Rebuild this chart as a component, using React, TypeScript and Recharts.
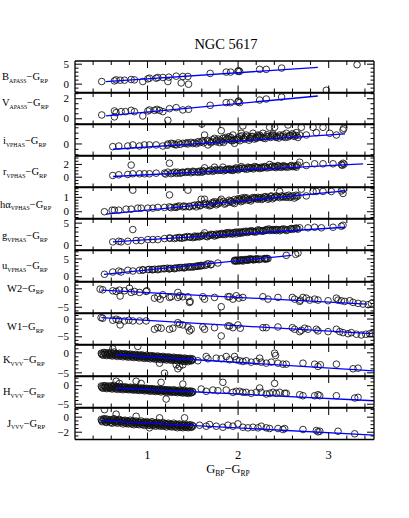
import React from 'react';
import { ScatterChart, Scatter, XAxis, YAxis } from 'recharts';

type P = [number, number];

const xTicks = [0.4, 0.6, 0.8, 1, 1.2, 1.4, 1.6, 1.8, 2, 2.2, 2.4, 2.6, 2.8, 3, 3.2, 3.4];
const xMajor = [1, 2, 3];

const bApass: P[] = [[0.495,0.65],[0.635,0.81],[0.654,1.07],[0.698,0.99],[0.746,0.99],[0.82,1.16],[0.856,1.07],[0.948,0.65],[1.004,1.32],[1.022,1.5],[1.096,1.5],[1.114,1.67],[1.17,1.67],[1.225,0.65],[1.236,1.75],[1.317,2.0],[1.39,1.92],[1.372,0.3],[1.446,1.92],[1.453,-0.02],[1.692,2.68],[1.869,3.02],[1.917,3.02],[1.998,3.19],[2.005,3.36],[2.017,3.19],[2.238,3.7],[2.311,3.7],[2.48,4.03],[3.313,4.87],[2.974,-1.54]];
const bApassFit: P[] = [[0.54,0.65],[2.88,4.2]];

const vApass: P[] = [[0.495,0.38],[0.635,0.78],[0.635,0.19],[0.654,0.61],[0.709,0.71],[0.757,0.71],[0.82,0.84],[0.856,0.71],[0.948,0.28],[1.004,0.78],[1.022,0.88],[1.077,0.84],[1.103,0.94],[1.133,0.84],[1.17,0.71],[1.225,-0.15],[1.243,1.01],[1.317,1.11],[1.39,0.88],[1.453,0.94],[1.692,1.34],[1.869,1.61],[1.917,1.61],[1.998,1.68],[2.005,1.77],[2.017,1.61],[2.238,1.87],[2.311,1.97],[2.48,2.17]];
const vApassFit: P[] = [[0.54,0.28],[2.88,2.27]];

const iVphas: P[] = [[0.617,-0.25],[0.683,-0.19],[0.783,-0.19],[0.838,-0.09],[0.912,-0.19],[0.967,-0.09],[1.022,-0.09],[1.096,-0.09],[1.169,-0.19],[1.225,0],[1.262,0.06],[1.317,-0.09],[1.39,0.06],[1.446,0],[1.519,0.12],[1.575,0.12],[1.6,1.85],[1.611,0.31],[1.63,0.83],[1.667,-0.09],[1.703,0.21],[1.74,0.52],[1.759,0.31],[1.796,0.12],[1.814,1.23],[1.832,0.52],[1.869,0.37],[1.899,0.68],[1.924,0.31],[1.943,0.83],[1.961,0.06],[1.98,0.43],[1.998,0.37],[2.017,0.68],[2.035,0.99],[2.053,1.67],[2.072,0.43],[2.09,0.83],[2.127,0.52],[2.145,0.68],[2.164,0.99],[2.201,0.52],[2.219,0.83],[2.238,0.62],[2.274,0.99],[2.311,0.68],[2.348,1.54],[2.366,0.74],[2.385,0.93],[2.403,1.54],[2.422,0.68],[2.459,0.83],[2.495,0.68],[2.532,0.99],[2.551,1.76],[2.569,0.74],[2.606,0.83],[2.643,1.05],[2.68,0.83],[2.698,1.54],[2.753,0.83],[2.827,1.54],[2.864,1.05],[2.937,1.54],[3.011,0.99],[3.085,0.83],[3.158,1.3],[3.166,1.45],
[1.3,-0.05],[1.34,0.1],[1.42,0.05],[1.48,0.15],[1.54,0.02],[1.6,0.2],[1.66,0.35],[1.7,0.1],[1.78,0.45],[1.82,0.25],[1.86,0.6],[1.9,0.45],[1.94,0.3],[2.0,0.55],[2.04,0.75],[2.08,0.6],[2.12,0.35],[2.16,0.7],[2.2,0.6],[2.24,0.8],[2.28,0.55],[2.32,0.85],[2.36,0.6],[2.4,0.75],[2.45,0.55],[2.5,0.85],[2.55,0.65],[2.6,0.95],[2.62,0.7],[2.66,0.6],
[1.22,-0.12],[1.28,0.02],[1.36,-0.04],[1.44,0.12],[1.5,0.04],[1.56,0.22],[1.62,0.1],[1.68,0.25],[1.72,0.4],[1.76,0.2],[1.8,0.35],[1.84,0.15],[1.88,0.5],[1.92,0.6],[1.96,0.4],[2.02,0.3],[2.06,0.5],[2.1,0.7],[2.14,0.55],[2.18,0.45],[2.22,0.7],[2.26,0.62],[2.3,0.5],[2.34,0.7],[2.38,0.82],[2.42,0.6],[2.47,0.72],[2.52,0.6],[2.57,0.8],[2.64,0.78]];
const iVphasFit: P[] = [[0.62,-0.49],[3.18,0.93]];

const rVphas: P[] = [[0.617,0.27],[0.683,0.38],[0.783,0.43],[0.82,1.9],[0.838,0.54],[0.912,0.54],[0.967,0.54],[1.022,0.54],[1.096,0.63],[1.188,0.63],[1.243,2.19],[1.225,0.79],[1.28,0.68],[1.335,0.79],[1.39,0.79],[1.446,0.89],[1.501,0.94],[1.556,0.89],[1.611,1.05],[1.63,1.47],[1.667,0.94],[1.703,1.16],[1.74,1.57],[1.777,1.05],[1.814,1.16],[1.832,1.57],[1.869,1.16],[1.906,1.32],[1.943,1.05],[1.98,1.47],[2.017,1.32],[2.035,1.67],[2.072,1.32],[2.109,1.57],[2.145,1.47],[2.182,1.67],[2.219,1.47],[2.256,1.57],[2.293,1.67],[2.348,1.99],[2.366,1.57],[2.403,1.67],[2.44,1.83],[2.495,1.67],[2.532,1.57],[2.587,1.83],[2.643,1.57],[2.68,2.35],[2.753,1.83],[2.845,2.1],[2.937,2.1],[3.048,2.1],[3.14,1.99],[3.158,2.19],
[1.26,0.55],[1.3,0.8],[1.36,0.62],[1.42,0.75],[1.48,0.7],[1.52,0.82],[1.58,0.95],[1.6,0.78],[1.72,0.92],[1.76,1.2],[1.84,1.0],[1.88,1.25],[1.92,1.1],[1.96,1.3],[2.0,1.15],[2.05,1.45],[2.1,1.25],[2.13,1.4],[2.17,1.3],[2.2,1.6],[2.24,1.35],[2.28,1.5],[2.32,1.45],[2.38,1.75],[2.42,1.5],[2.46,1.6],[2.5,1.8],[2.56,1.6],[2.62,1.7],[2.66,1.9],[3.15,1.85],[3.17,2.05],
[1.2,0.5],[1.32,0.6],[1.38,0.72],[1.44,0.8],[1.5,0.85],[1.56,0.75],[1.62,0.9],[1.68,1.0],[1.74,1.05],[1.8,1.1],[1.86,1.15],[1.9,1.2],[1.94,1.2],[1.98,1.25],[2.02,1.4],[2.07,1.35],[2.12,1.5],[2.16,1.45],[2.21,1.5],[2.26,1.45],[2.3,1.6],[2.34,1.55],[2.4,1.6],[2.44,1.7],[2.48,1.55],[2.52,1.7],[2.58,1.75],[2.6,1.65],[2.64,1.8]];
const rVphasFit: P[] = [[0.62,0.11],[3.38,2.1]];

const haVphas: P[] = [[0.525,0.0],[0.61,0.11],[0.635,0.11],[0.683,0.11],[0.764,0.18],[0.82,0.18],[0.838,1.5],[0.893,0.25],[0.93,0.25],[1.004,0.25],[1.059,0.25],[1.114,0.3],[1.188,0.3],[1.243,1.17],[1.243,0.34],[1.317,0.3],[1.39,0.34],[1.446,1.5],[1.464,0.34],[1.538,0.34],[1.582,0.41],[1.593,0.87],[1.63,0.87],[1.648,0.48],[1.685,0.41],[1.722,0.57],[1.759,0.48],[1.796,0.64],[1.814,0.87],[1.851,0.53],[1.888,0.64],[1.924,0.71],[1.961,0.57],[1.98,0.76],[2.017,0.87],[2.053,0.76],[2.072,0.99],[2.109,0.8],[2.145,0.87],[2.182,0.99],[2.219,0.87],[2.256,0.99],[2.293,1.03],[2.33,0.87],[2.366,1.1],[2.403,1.03],[2.459,1.41],[2.495,1.03],[2.532,1.1],[2.569,0.99],[2.606,1.1],[2.643,1.03],[2.698,1.57],[2.753,1.1],[2.827,1.41],[2.864,1.41],[2.937,1.41],[3.029,1.41],[3.14,1.45],[3.158,1.27],
[1.3,0.32],[1.35,0.4],[1.42,0.35],[1.5,0.42],[1.56,0.5],[1.62,0.55],[1.7,0.45],[1.74,0.7],[1.78,0.55],[1.84,0.72],[1.9,0.8],[1.94,0.62],[2.0,0.9],[2.03,0.7],[2.06,0.85],[2.1,0.95],[2.14,0.75],[2.18,0.92],[2.22,1.0],[2.26,0.85],[2.3,1.05],[2.34,0.95],[2.38,0.9],[2.42,1.1],[2.46,0.98],[2.5,1.05],[2.56,1.15],[2.62,0.95],[2.66,1.1],[3.16,1.55],
[1.26,0.28],[1.33,0.36],[1.4,0.4],[1.46,0.38],[1.52,0.46],[1.58,0.45],[1.64,0.6],[1.68,0.52],[1.72,0.65],[1.76,0.6],[1.8,0.75],[1.86,0.6],[1.92,0.75],[1.96,0.85],[2.01,0.8],[2.04,0.95],[2.08,0.9],[2.12,0.85],[2.16,0.98],[2.2,0.9],[2.24,0.95],[2.28,0.92],[2.32,1.0],[2.36,1.05],[2.4,0.98],[2.44,1.05],[2.48,1.1],[2.53,1.0],[2.58,1.05],[2.64,1.15]];
const haVphasFit: P[] = [[0.54,-0.17],[3.18,1.45]];

const gVphas: P[] = [[0.617,0.79],[0.683,0.93],[0.709,0.79],[0.783,0.93],[0.838,3.56],[0.875,1.09],[0.93,1.09],[1.004,1.31],[1.059,1.31],[1.114,1.31],[1.188,1.54],[1.243,1.69],[1.298,1.54],[1.354,1.69],[1.409,1.84],[1.464,1.84],[1.519,1.84],[1.556,2.06],[1.593,2.06],[1.63,2.82],[1.648,2.06],[1.685,2.29],[1.722,2.44],[1.759,2.29],[1.796,2.6],[1.832,2.44],[1.869,2.82],[1.906,2.6],[1.943,2.82],[1.98,2.6],[2.017,3.05],[2.053,2.82],[2.09,3.2],[2.127,3.05],[2.164,3.2],[2.201,3.05],[2.238,3.34],[2.274,3.2],[2.311,3.56],[2.348,3.34],[2.385,3.56],[2.422,3.34],[2.477,3.56],[2.532,3.34],[2.587,3.79],[2.643,3.79],[2.68,3.95],[2.772,3.95],[2.845,4.08],[2.919,3.95],[3.048,4.08],[3.14,4.3],[3.158,4.53],
[1.32,1.7],[1.38,1.6],[1.44,2.0],[1.5,1.75],[1.54,1.95],[1.6,2.2],[1.66,1.95],[1.7,2.5],[1.74,2.1],[1.78,2.4],[1.82,2.7],[1.86,2.45],[1.9,2.9],[1.94,2.55],[1.98,3.0],[2.02,2.7],[2.06,3.1],[2.1,2.9],[2.14,3.3],[2.18,3.0],[2.22,3.5],[2.26,3.2],[2.3,3.35],[2.34,3.7],[2.38,3.4],[2.42,3.6],[2.46,3.3],[2.5,3.7],[2.55,3.5],[2.6,3.6],[2.64,3.9],[2.66,3.65],
[1.25,1.6],[1.35,1.8],[1.41,1.75],[1.47,1.9],[1.52,2.1],[1.57,1.9],[1.62,2.3],[1.68,2.2],[1.72,2.35],[1.76,2.55],[1.8,2.45],[1.84,2.6],[1.88,2.75],[1.92,2.7],[1.96,2.9],[2.0,2.85],[2.04,2.95],[2.08,3.05],[2.12,3.1],[2.16,3.15],[2.2,3.2],[2.24,3.35],[2.28,3.3],[2.32,3.45],[2.36,3.5],[2.4,3.45],[2.44,3.55],[2.48,3.5],[2.52,3.6],[2.58,3.7],[2.62,3.75]];
const gVphasFit: P[] = [[0.62,0.79],[3.18,4.08]];

const uVphas: P[] = [[0.525,0.68],[0.617,1.32],[0.683,1.6],[0.709,1.32],[0.783,1.8],[0.838,1.6],[0.912,1.8],[0.948,1.97],[1.004,1.97],[1.059,1.97],[1.114,1.97],[1.188,2.25],[1.243,2.25],[1.298,2.25],[1.354,2.53],[1.409,2.53],[1.464,2.73],[1.538,2.92],[1.593,3.2],[1.63,3.2],[1.667,3.66],[1.703,3.49],[1.777,3.85],[1.961,4.61],[1.98,4.41],[2.017,4.61],[2.035,4.78],[2.053,4.41],[2.09,4.78],[2.127,5.06],[2.164,4.78],[2.201,5.06],[2.293,5.06],[2.311,5.06],[2.33,5.06],[2.532,6.01],[2.635,6.3],[2.661,6.66],
[1.02,2.05],[1.08,2.1],[1.15,2.2],[1.22,2.4],[1.26,2.35],[1.32,2.45],[1.38,2.6],[1.42,2.7],[1.48,2.8],[1.52,2.85],[1.56,3.05],[1.6,3.1],[1.96,4.4],[1.99,4.7],[2.02,4.5],[2.06,4.65],[2.08,4.85],[2.11,4.6],[2.14,4.9],[2.17,4.75],[2.2,4.9],[2.23,4.8],[2.3,4.95],[2.32,5.15],
[0.95,1.85],[1.05,2.0],[1.12,2.15],[1.18,2.3],[1.24,2.2],[1.3,2.4],[1.35,2.55],[1.4,2.5],[1.45,2.75],[1.5,2.7],[1.55,2.95],[1.58,3.0],[1.65,3.3],[1.7,3.35],[1.97,4.55],[2.0,4.45],[2.04,4.7],[2.1,4.75],[2.13,4.85],[2.16,4.95],[2.19,4.85],[2.22,5.0],[2.25,4.95],[2.29,5.1]];
const uVphasFit: P[] = [[0.52,0.68],[2.59,6.01]];

const w2: P[] = [[0.477,-0.08],[0.506,-0.27],[0.617,-0.53],[0.654,-0.71],[0.698,-1.97],[0.691,-0.36],[0.746,-0.53],[0.801,0.19],[0.82,-0.98],[0.856,-0.71],[0.912,-0.98],[0.985,-0.71],[0.993,-0.53],[1.077,-2.53],[1.114,-2.15],[1.14,-2.8],[1.169,-1.61],[1.243,-2.34],[1.262,-2.15],[1.335,-0.98],[1.335,-2.34],[1.354,-1.88],[1.39,-2.15],[1.446,-2.15],[1.464,-3.69],[1.471,-3.42],[1.611,-2.15],[1.63,-2.8],[1.74,-2.34],[1.814,-4.86],[1.888,-2.15],[1.906,-2.15],[1.943,-2.8],[1.98,-1.88],[2.009,-2.53],[2.053,-2.34],[2.274,-2.15],[2.33,-2.8],[2.44,-2.34],[2.599,-2.34],[2.624,-2.8],[2.68,-3.42],[2.687,-3.07],[2.716,-2.34],[2.753,-2.53],[2.79,-3.07],[2.845,-2.8],[2.882,-3.07],[2.993,-3.23],[3.085,-2.53],[3.103,-3.07],[3.14,-3.23],[3.177,-3.42],[3.232,-3.23],[3.269,-3.69],[3.324,-3.96],[3.379,-4.15],[3.435,-4.31],[3.471,-3.96]];
const w2Fit: P[] = [[0.49,-0.36],[3.42,-4.15]];

const w1: P[] = [[0.488,0.39],[0.506,0.22],[0.617,-0.34],[0.654,-0.06],[0.698,-1.66],[0.683,-0.34],[0.746,-0.54],[0.794,-0.34],[0.838,-0.54],[0.912,-0.54],[0.985,-0.54],[1.077,-2.88],[1.114,-2.43],[1.151,-2.59],[1.243,-2.88],[1.28,-2.59],[1.335,-1.02],[1.354,-1.47],[1.39,-1.66],[1.446,-2.23],[1.464,-3.35],[1.483,-2.88],[1.611,-2.23],[1.63,-2.88],[1.74,-2.43],[1.814,-4.76],[1.888,-1.95],[1.906,-1.95],[1.943,-2.43],[1.998,-1.66],[2.024,-2.59],[2.274,-2.43],[2.311,-2.43],[2.44,-2.23],[2.599,-2.43],[2.624,-2.88],[2.68,-3.55],[2.698,-3.16],[2.735,-2.59],[2.772,-2.88],[2.864,-2.88],[2.882,-3.35],[2.993,-3.55],[3.085,-2.88],[3.122,-3.55],[3.158,-3.83],[3.214,-4.12],[3.25,-3.83],[3.306,-4.28],[3.361,-4.48],[3.409,-4.28],[3.453,-4.12],[3.482,-4.12]];
const w1Fit: P[] = [[0.49,0.39],[3.47,-4.12]];

const kVvv: P[] = [[0.49,-0.1],[0.5,-0.5],[0.52,0.1],[0.53,-0.3],[0.55,-0.7],[0.56,0.0],[0.58,-0.4],[0.6,-0.2],[0.61,-0.8],[0.63,0.2],[0.64,-0.5],[0.66,-0.3],[0.67,-0.9],[0.69,-0.1],[0.7,-0.6],[0.72,-0.4],[0.73,-1.0],[0.75,-0.2],[0.76,-0.7],[0.78,-0.5],[0.79,-1.1],[0.81,-0.3],[0.82,-0.8],[0.84,-0.6],[0.85,-1.2],[0.87,-0.4],[0.88,-0.9],[0.9,-0.7],[0.91,-1.3],[0.93,-0.5],[0.94,-1.0],[0.96,-0.8],[0.97,-1.4],[0.99,-0.6],[1.0,-1.1],[1.02,-0.9],[1.03,-1.5],[1.05,-0.7],[1.06,-1.2],[1.08,-1.0],[1.09,-1.6],[1.11,-0.8],[1.12,-1.3],[1.14,-1.1],[1.15,-1.7],[1.17,-0.9],[1.18,-1.4],[1.2,-1.2],[1.21,-1.8],[1.23,-1.0],[1.24,-1.5],[1.26,-1.3],[1.27,-1.9],[1.29,-1.1],[1.3,-1.6],[1.32,-1.4],[1.33,-2.0],[1.35,-1.2],[1.36,-1.7],[1.38,-1.5],[1.39,-2.1],[1.41,-1.3],[1.42,-1.8],[1.44,-1.6],[1.45,-2.2],[1.47,-1.4],[1.48,-1.9],[1.5,-1.7],
[0.495,-0.3],[0.515,-0.6],[0.535,0.0],[0.545,-0.45],[0.565,-0.25],[0.585,-0.65],[0.595,0.05],[0.615,-0.45],[0.625,-0.15],[0.645,-0.75],[0.655,-0.2],[0.675,-0.55],[0.685,-0.35],[0.705,-0.85],[0.715,-0.25],[0.735,-0.65],[0.745,-0.45],[0.765,-0.95],[0.775,-0.35],[0.795,-0.75],[0.805,-0.55],[0.825,-1.05],[0.835,-0.45],[0.855,-0.85],[0.865,-0.65],[0.885,-1.15],[0.895,-0.55],[0.915,-0.95],[0.925,-0.75],[0.945,-1.25],[0.955,-0.65],[0.975,-1.05],[0.985,-0.85],[1.005,-1.35],[1.015,-0.75],[1.035,-1.15],[1.045,-0.95],[1.065,-1.45],[1.075,-0.85],[1.095,-1.25],[1.105,-1.05],[1.125,-1.55],[1.135,-0.95],[1.155,-1.35],[1.165,-1.15],[1.185,-1.65],[1.195,-1.05],[1.215,-1.45],[1.225,-1.25],[1.245,-1.75],[1.255,-1.15],[1.275,-1.55],[1.285,-1.35],[1.305,-1.85],[1.315,-1.25],[1.335,-1.65],[1.345,-1.45],[1.365,-1.95],[1.375,-1.35],[1.395,-1.75],[1.405,-1.55],[1.425,-2.05],[1.435,-1.45],[1.455,-1.85],[1.465,-1.65],[1.485,-2.0],[1.495,-1.5],
[0.617,1.0],[0.893,1.6],[1.188,-5.08],[1.335,-3.99],[1.354,-3.41],[1.317,-2.99],[1.39,-2.99],[1.409,-2.16],[1.133,-2.59],
[1.556,-1.99],[1.648,-0.92],[1.667,-1.49],[1.759,-1.34],[1.814,-1.49],[1.869,-0.92],[1.906,-1.74],[1.961,-0.92],[1.98,-1.74],[2.017,-1.99],[2.053,-2.16],[2.09,-1.99],[2.145,-2.34],[2.201,-2.16],[2.238,-1.34],[2.256,-2.34],[2.311,-2.59],[2.366,-2.34],[2.403,-0.09],[2.414,-0.67],[2.44,-2.59],[2.495,-2.84],[2.532,-2.84],[2.716,-2.59],[2.845,-2.84],[2.882,-3.41],[2.908,-2.99],[3.085,-2.84],[3.269,-3.99],[3.324,-3.84]];
const kVvvFit: P[] = [[0.65,-0.49],[3.5,-4.5]];

const hVvv: P[] = [[0.49,-0.1],[0.5,-0.6],[0.52,0.0],[0.53,-0.4],[0.55,-0.8],[0.56,-0.1],[0.58,-0.5],[0.6,-0.3],[0.61,-0.9],[0.63,0.1],[0.64,-0.6],[0.66,-0.4],[0.67,-1.0],[0.69,-0.2],[0.7,-0.7],[0.72,-0.5],[0.73,-1.1],[0.75,-0.3],[0.76,-0.8],[0.78,-0.6],[0.79,-1.1],[0.81,-0.4],[0.82,-0.9],[0.84,-0.7],[0.85,-1.2],[0.87,-0.5],[0.88,-1.0],[0.9,-0.8],[0.91,-1.3],[0.93,-0.6],[0.94,-1.0],[0.96,-0.8],[0.97,-1.4],[0.99,-0.7],[1.0,-1.1],[1.02,-0.9],[1.03,-1.5],[1.05,-0.8],[1.06,-1.2],[1.08,-1.0],[1.09,-1.6],[1.11,-0.9],[1.12,-1.3],[1.14,-1.1],[1.15,-1.7],[1.17,-1.0],[1.18,-1.4],[1.2,-1.2],[1.21,-1.8],[1.23,-1.1],[1.24,-1.5],[1.26,-1.3],[1.27,-1.8],[1.29,-1.1],[1.3,-1.6],[1.32,-1.4],[1.33,-1.9],[1.35,-1.2],[1.36,-1.7],[1.38,-1.5],[1.39,-2.0],[1.41,-1.3],[1.42,-1.8],[1.44,-1.6],[1.45,-2.1],[1.47,-1.4],[1.48,-1.9],[1.5,-1.7],
[0.495,-0.35],[0.515,-0.7],[0.535,-0.1],[0.545,-0.55],[0.565,-0.35],[0.585,-0.75],[0.595,-0.05],[0.615,-0.55],[0.625,-0.25],[0.645,-0.85],[0.655,-0.3],[0.675,-0.65],[0.685,-0.45],[0.705,-0.95],[0.715,-0.35],[0.735,-0.75],[0.745,-0.55],[0.765,-1.0],[0.775,-0.45],[0.795,-0.85],[0.805,-0.65],[0.825,-1.1],[0.835,-0.55],[0.855,-0.95],[0.865,-0.75],[0.885,-1.2],[0.895,-0.65],[0.915,-1.0],[0.925,-0.85],[0.945,-1.25],[0.955,-0.75],[0.975,-1.1],[0.985,-0.9],[1.005,-1.35],[1.015,-0.85],[1.035,-1.2],[1.045,-1.0],[1.065,-1.45],[1.075,-0.95],[1.095,-1.3],[1.105,-1.1],[1.125,-1.5],[1.135,-1.0],[1.155,-1.35],[1.165,-1.2],[1.185,-1.6],[1.195,-1.1],[1.215,-1.45],[1.225,-1.3],[1.245,-1.7],[1.255,-1.2],[1.275,-1.55],[1.285,-1.4],[1.305,-1.75],[1.315,-1.3],[1.335,-1.6],[1.345,-1.5],[1.365,-1.85],[1.375,-1.4],[1.395,-1.7],[1.405,-1.55],[1.425,-1.95],[1.435,-1.5],[1.455,-1.8],[1.465,-1.65],[1.485,-1.9],[1.495,-1.55],
[0.654,1.2],[0.69,0.6],[0.875,1.2],[0.93,0.6],[1.206,-3.6],[1.15,0.89],[1.39,0.44],
[1.593,-0.9],[1.648,-1.52],[1.722,-1.17],[1.777,-1.36],[1.832,0.89],[1.869,-1.17],[1.943,-1.79],[1.98,-1.52],[2.017,-1.52],[2.053,-1.79],[2.09,-1.79],[2.145,-2.06],[2.201,-1.79],[2.238,-0.63],[2.256,-1.79],[2.311,-2.25],[2.348,-2.06],[2.385,-1.79],[2.403,0.6],[2.422,-2.06],[2.459,-1.79],[2.514,-2.06],[2.532,-2.06],[2.68,-2.44],[2.716,-2.71],[2.845,-2.71],[2.882,-2.44],[2.901,-2.71],[3.085,-2.71],[3.287,-3.33],[3.324,-3.14]];
const hVvvFit: P[] = [[0.65,-0.63],[3.5,-4.06]];

const jVvv: P[] = [[0.49,-0.3],[0.5,-0.6],[0.52,-0.2],[0.53,-0.5],[0.55,-0.7],[0.56,-0.3],[0.58,-0.5],[0.6,-0.4],[0.61,-0.8],[0.63,-0.2],[0.64,-0.6],[0.66,-0.4],[0.67,-0.8],[0.69,-0.3],[0.7,-0.6],[0.72,-0.5],[0.73,-0.9],[0.75,-0.4],[0.76,-0.7],[0.78,-0.5],[0.79,-0.9],[0.81,-0.4],[0.82,-0.8],[0.84,-0.6],[0.85,-1.0],[0.87,-0.5],[0.88,-0.8],[0.9,-0.7],[0.91,-1.0],[0.93,-0.5],[0.94,-0.9],[0.96,-0.7],[0.97,-1.1],[0.99,-0.6],[1.0,-0.9],[1.02,-0.8],[1.03,-1.1],[1.05,-0.6],[1.06,-1.0],[1.08,-0.8],[1.09,-1.2],[1.11,-0.7],[1.12,-1.0],[1.14,-0.9],[1.15,-1.2],[1.17,-0.7],[1.18,-1.1],[1.2,-0.9],[1.21,-1.3],[1.23,-0.8],[1.24,-1.1],[1.26,-1.0],[1.27,-1.3],[1.29,-0.8],[1.3,-1.2],[1.32,-1.0],[1.33,-1.4],[1.35,-0.9],[1.36,-1.2],[1.38,-1.1],[1.39,-1.4],[1.41,-1.0],[1.42,-1.3],[1.44,-1.1],[1.45,-1.4],[1.47,-1.0],[1.48,-1.3],[1.5,-1.2],
[0.495,-0.45],[0.515,-0.35],[0.535,-0.65],[0.545,-0.25],[0.565,-0.55],[0.585,-0.35],[0.595,-0.7],[0.615,-0.5],[0.625,-0.3],[0.645,-0.7],[0.655,-0.45],[0.675,-0.6],[0.685,-0.4],[0.705,-0.75],[0.715,-0.45],[0.735,-0.65],[0.745,-0.5],[0.765,-0.85],[0.775,-0.55],[0.795,-0.7],[0.805,-0.6],[0.825,-0.9],[0.835,-0.5],[0.855,-0.75],[0.865,-0.65],[0.885,-0.95],[0.895,-0.6],[0.915,-0.8],[0.925,-0.7],[0.945,-1.0],[0.955,-0.65],[0.975,-0.85],[0.985,-0.75],[1.005,-1.05],[1.015,-0.7],[1.035,-0.9],[1.045,-0.8],[1.065,-1.1],[1.075,-0.75],[1.095,-0.95],[1.105,-0.85],[1.125,-1.15],[1.135,-0.8],[1.155,-1.0],[1.165,-0.9],[1.185,-1.2],[1.195,-0.85],[1.215,-1.05],[1.225,-0.95],[1.245,-1.25],[1.255,-0.9],[1.275,-1.1],[1.285,-1.0],[1.305,-1.3],[1.315,-0.95],[1.335,-1.15],[1.345,-1.05],[1.365,-1.35],[1.375,-1.0],[1.395,-1.2],[1.405,-1.1],[1.425,-1.35],[1.435,-1.05],[1.455,-1.25],[1.465,-1.15],[1.485,-1.35],[1.495,-1.1],
[0.525,1.0],[0.654,0.4],[0.875,0.12],[1.133,-0.09],[1.409,-0.09],[1.022,-1.42],
[1.575,-1.07],[1.648,-1.2],[1.685,-0.98],[1.759,-1.2],[1.832,-1.34],[1.888,-1.07],[1.943,-1.2],[1.998,-0.89],[2.053,-1.34],[2.109,-1.42],[2.164,-1.34],[2.219,-1.42],[2.256,-1.2],[2.311,-1.42],[2.348,-1.51],[2.44,-1.51],[2.495,-1.64],[2.514,-1.51],[2.716,-1.64],[2.864,-1.77],[2.882,-1.95],[2.901,-1.87],[3.103,-1.87],[3.287,-2.21]];
const jVvvFit: P[] = [[0.49,-0.45],[3.5,-2.4]];

const FONT = '"Liberation Serif", "DejaVu Serif", serif';
const PANEL_TOP = 61;
const PANEL_H = 31.5;

const panels = [
  { main: 'B', sub: 'APASS', pts: bApass, fit: bApassFit, domain: [-2.1, 5.8], ticks: [-2,-1,0,1,2,3,4,5], labels: [0, 5], nx: 2, ny: 80 },
  { main: 'V', sub: 'APASS', pts: vApass, fit: vApassFit, domain: [-0.57, 2.57], ticks: [-0.5,0,0.5,1,1.5,2,2.5], labels: [0, 2], nx: 2, ny: 106 },
  { main: 'i', sub: 'VPHAS', pts: iVphas, fit: iVphasFit, domain: [-1.07, 1.85], ticks: [-1,-0.5,0,0.5,1,1.5], labels: [0], nx: 3, ny: 144 },
  { main: 'r', sub: 'VPHAS', pts: rVphas, fit: rVphasFit, domain: [-1.61, 3.32], ticks: [-1.5,-1,-0.5,0,0.5,1,1.5,2,2.5,3], labels: [0, 2], nx: 3, ny: 175 },
  { main: 'h\u03b1', sub: 'VPHAS', pts: haVphas, fit: haVphasFit, domain: [-0.47, 1.72], ticks: [-0.4,-0.2,0,0.2,0.4,0.6,0.8,1,1.2,1.4,1.6], labels: [0, 1], nx: 0, ny: 207.5 },
  { main: 'g', sub: 'VPHAS', pts: gVphas, fit: gVphasFit, domain: [-1.14, 5.93], ticks: [-1,0,1,2,3,4,5], labels: [0, 5], nx: 2, ny: 239 },
  { main: 'u', sub: 'VPHAS', pts: uVphas, fit: uVphasFit, domain: [-1.35, 7.52], ticks: [-1,0,1,2,3,4,5,6,7], labels: [0, 5], nx: 2, ny: 269 },
  { main: 'W2', sub: '', pts: w2, fit: w2Fit, domain: [-6.7, 1.85], ticks: [-6,-5,-4,-3,-2,-1,0,1], labels: [-5, 0], nx: 7, ny: 291.5 },
  { main: 'W1', sub: '', pts: w1, fit: w1Fit, domain: [-7.17, 1.7], ticks: [-7,-6,-5,-4,-3,-2,-1,0,1], labels: [-5, 0], nx: 7, ny: 330 },
  { main: 'K', sub: 'VVV', pts: kVvv, fit: kVvvFit, domain: [-5.92, 1.95], ticks: [-5,-4,-3,-2,-1,0,1], labels: [-5, 0], nx: 3, ny: 363 },
  { main: 'H', sub: 'VVV', pts: hVvv, fit: hVvvFit, domain: [-5.88, 2.6], ticks: [-5,-4,-3,-2,-1,0,1,2], labels: [-5, 0], nx: 3, ny: 395 },
  { main: 'J', sub: 'VVV', pts: jVvv, fit: jVvvFit, domain: [-2.97, 1.22], ticks: [-2.5,-2,-1.5,-1,-0.5,0,0.5,1], labels: [-2, 0], nx: 7, ny: 426.5 },
];

const fmt = (v: number) => (v < 0 ? '\u2212' + Math.abs(v) : String(v));

const Ring = (props: any) => {
  const { cx, cy } = props;
  if (cx == null || cy == null) return <g />;
  return <circle cx={cx} cy={cy} r={3.3} fill="none" stroke="#111" strokeWidth={0.85} />;
};
const NoDot = () => <g />;

const makeXTick = (side: 'top' | 'bottom', showLabel: boolean) => (props: any) => {
  const { x, y, payload } = props;
  const v = payload.value;
  const major = xMajor.includes(v);
  const len = major ? 7 : 4;
  const dir = side === 'top' ? 1 : -1;
  return (
    <g>
      <line x1={x} y1={y} x2={x} y2={y + dir * len} stroke="#000" strokeWidth={1} />
      {showLabel && major ? (
        <text x={x} y={y + 19} textAnchor="middle" fontSize={12.5} fontFamily={FONT} fill="#000">{String(v)}</text>
      ) : null}
    </g>
  );
};

const makeYTick = (side: 'left' | 'right', labels: number[]) => (props: any) => {
  const { x, y, payload } = props;
  const v = payload.value;
  const major = labels.includes(v);
  const len = major ? 7 : 3.5;
  const dir = side === 'left' ? 1 : -1;
  return (
    <g>
      <line x1={x} y1={y} x2={x + dir * len} y2={y} stroke="#000" strokeWidth={1} />
      {side === 'left' && major ? (
        <text x={x - 6} y={y + 3.7} textAnchor="end" fontSize={11} fontFamily={FONT} fill="#000">{fmt(v)}</text>
      ) : null}
    </g>
  );
};

const axisLine = { stroke: '#000', strokeWidth: 1.3 };

export default function App() {
  return (
    <div style={{ position: 'absolute', left: 0, top: 0, width: 409, height: 518, background: '#fff', fontFamily: FONT }}>
      <style>{'svg { overflow: visible; }'}</style>
      {panels.map((p, k) => {
        const last = k === panels.length - 1;
        const top = PANEL_TOP + k * PANEL_H;
        const bottomH = last ? 30 : 1;
        const data = p.pts.map(([x, y]) => ({ x, y }));
        const fit = p.fit.map(([x, y]) => ({ x, y }));
        return (
          <div key={k} style={{ position: 'absolute', left: 0, top: top - 1 }}>
            <ScatterChart width={409} height={PANEL_H + 1 + bottomH} margin={{ top: 0, right: 34, bottom: 0, left: 74 }}>
              <XAxis xAxisId="b" orientation="bottom" type="number" dataKey="x" domain={[0.2, 3.5]} allowDataOverflow ticks={xTicks} interval={0} height={bottomH} tickSize={0} tickMargin={0} tickLine={false} axisLine={axisLine} tick={makeXTick('bottom', last)} />
              <XAxis xAxisId="t" orientation="top" type="number" dataKey="x" domain={[0.2, 3.5]} allowDataOverflow ticks={xTicks} interval={0} height={1} tickSize={0} tickMargin={0} tickLine={false} axisLine={axisLine} tick={makeXTick('top', false)} />
              <YAxis yAxisId="l" orientation="left" type="number" dataKey="y" domain={p.domain} allowDataOverflow ticks={p.ticks} interval={0} width={1} tickSize={0} tickMargin={0} tickLine={false} axisLine={axisLine} tick={makeYTick('left', p.labels)} />
              <YAxis yAxisId="r" orientation="right" type="number" dataKey="y" domain={p.domain} allowDataOverflow ticks={p.ticks} interval={0} width={1} tickSize={0} tickMargin={0} tickLine={false} axisLine={axisLine} tick={makeYTick('right', p.labels)} />
              <Scatter xAxisId="b" yAxisId="l" data={data} dataKey="y" shape={Ring} isAnimationActive={false} />
              <Scatter xAxisId="b" yAxisId="l" data={fit} dataKey="y" shape={NoDot} line={{ stroke: '#0000ff', strokeWidth: 1.3 }} isAnimationActive={false} />
            </ScatterChart>
          </div>
        );
      })}
      <svg width={409} height={518} style={{ position: 'absolute', left: 0, top: 0, pointerEvents: 'none' }}>
        <text x={226} y={49} textAnchor="middle" fontSize={14.5} fontFamily={FONT} fill="#000">NGC 5617</text>
        {panels.map((p, k) => (
          <text key={k} x={p.nx} y={p.ny} fontSize={10.5} fontFamily={FONT} fill="#000">
            <tspan>{p.main}</tspan>
            {p.sub ? <tspan fontSize={5.8} dy={2.5}>{p.sub}</tspan> : null}
            <tspan dy={p.sub ? -2.5 : 0}>{'\u2212G'}</tspan>
            <tspan fontSize={6.5} dy={2.5}>RP</tspan>
          </text>
        ))}
        <text x={228} y={473} textAnchor="middle" fontSize={12.5} fontFamily={FONT} fill="#000">
          <tspan>G</tspan>
          <tspan fontSize={7.5} dy={3}>BP</tspan>
          <tspan dy={-3}>{'\u2212G'}</tspan>
          <tspan fontSize={7.5} dy={3}>RP</tspan>
        </text>
      </svg>
    </div>
  );
}
